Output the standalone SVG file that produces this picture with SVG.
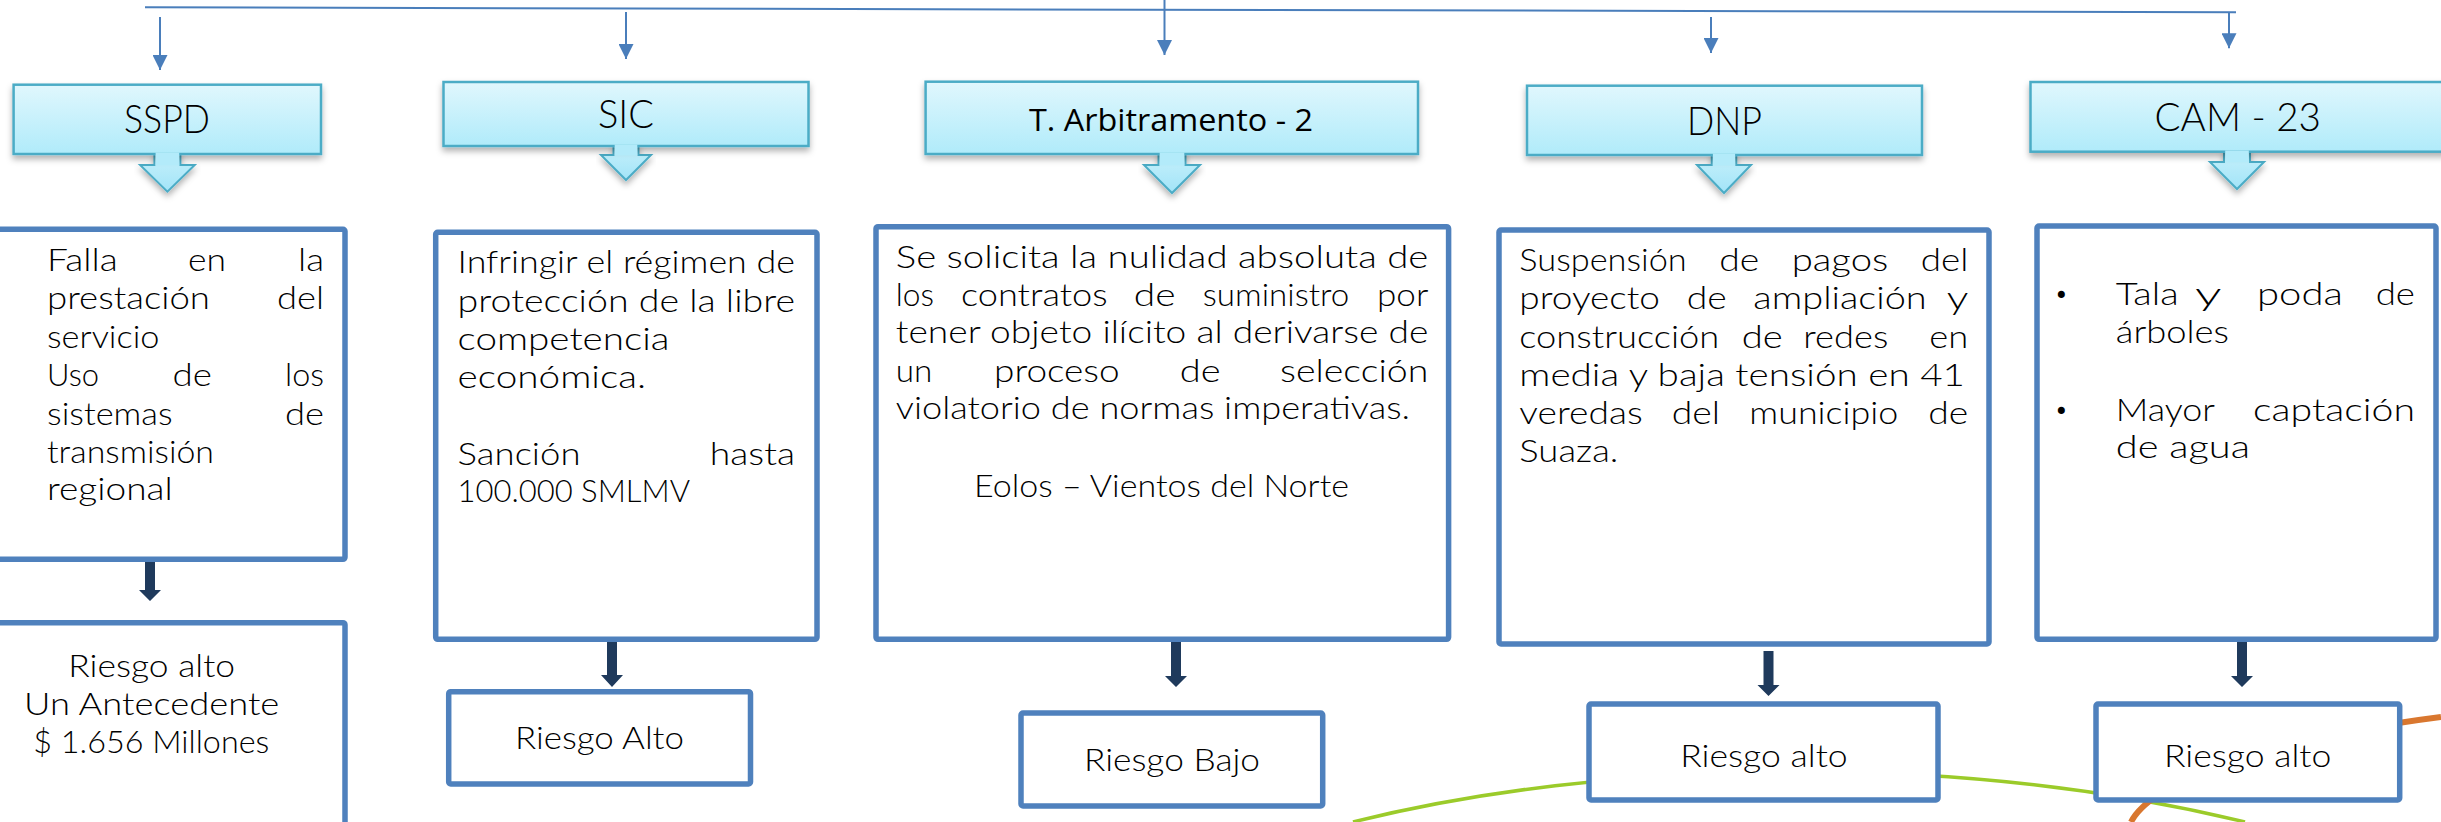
<svg xmlns="http://www.w3.org/2000/svg" width="2441" height="822" viewBox="0 0 2441 822">
<defs>
<style>
.t{font-family:"Lato","DejaVu Sans",sans-serif;font-size:31px;font-weight:300;fill:#000}
.h{font-family:"Lato","DejaVu Sans",sans-serif;font-size:40px;font-weight:300;fill:#000}
.hc{font-family:"Open Sans","Liberation Sans",sans-serif;font-size:31px;font-weight:400;fill:#000}
.hdr{fill:url(#gHdr);stroke:#4BACC6;stroke-width:2.5;filter:url(#sh)}
.harr{fill:url(#gArr);stroke:#4BACC6;stroke-width:2;filter:url(#sh)}
.box{fill:#fff;stroke:#4F81BD;stroke-width:5.5}
.blue{fill:none;stroke:#4A7EBB;stroke-width:2}
.dark{fill:#1F3A5C}
.bul{font-family:"DejaVu Sans",sans-serif;font-size:24px;fill:#000}
</style>
<linearGradient id="gHdr" x1="0" y1="0" x2="0" y2="1">
<stop offset="0" stop-color="#E0F7FD"/>
<stop offset="1" stop-color="#B0EBFA"/>
</linearGradient>
<linearGradient id="gArr" x1="0" y1="0" x2="0" y2="1">
<stop offset="0" stop-color="#C8F1FB"/>
<stop offset="1" stop-color="#A2E4F8"/>
</linearGradient>
<filter id="sh" x="-10%" y="-20%" width="120%" height="150%">
<feDropShadow dx="0" dy="4" stdDeviation="3" flood-color="#000" flood-opacity="0.3"/>
</filter>
<marker id="ah" viewBox="0 0 10 10" refX="10" refY="5" markerWidth="15" markerHeight="15" markerUnits="userSpaceOnUse" orient="auto">
<path d="M0,0 L10,5 L0,10 z" fill="#4A7EBB"/>
</marker>
</defs>

<g id="curves">
<path d="M1353,822 C1600,760 1950,750 2245,822" fill="none" stroke="#9BCB2A" stroke-width="3.5"/>
<path d="M2131,822 C2155,775 2300,735 2441,717" fill="none" stroke="#D9772F" stroke-width="6"/>
</g>

<g id="connectors">
<path class="blue" d="M145,7.3 L2236,12.3"/>
<path class="blue" d="M1164.5,0 L1164.5,9.5"/>
<path class="blue" d="M160,17 L160,70" marker-end="url(#ah)"/>
<path class="blue" d="M626,12 L626,59" marker-end="url(#ah)"/>
<path class="blue" d="M1164.5,9.5 L1164.5,55" marker-end="url(#ah)"/>
<path class="blue" d="M1711,17 L1711,53" marker-end="url(#ah)"/>
<path class="blue" d="M2229,12.3 L2229,48.3" marker-end="url(#ah)"/>
<path class="dark" d="M145,557 L155,557 L155,590 L161,590 L150,601 L139,590 L145,590 Z"/>
<path class="dark" d="M607,642 L617,642 L617,675 L623,675 L612,687 L601,675 L607,675 Z"/>
<path class="dark" d="M1171,642 L1181,642 L1181,676 L1187,676 L1176,687 L1165,676 L1171,676 Z"/>
<path class="dark" d="M1763.5,651 L1773.5,651 L1773.5,685 L1779.5,685 L1768.5,696 L1757.5,685 L1763.5,685 Z"/>
<path class="dark" d="M2237,642 L2247,642 L2247,676 L2253,676 L2242,687 L2231,676 L2237,676 Z"/>
</g>

<g id="hdr-sspd">
<path class="harr" d="M154.4,152 L180.4,152 L180.4,165 L194.7,165 L167.4,191.7 L140.1,165 L154.4,165 Z"/>
<rect class="hdr" x="13.6" y="84.7" width="307.4" height="69.3"/>
<rect x="155.6" y="152.5" width="23.6" height="13" fill="#B3EBFA"/>
<text class="h" x="124" y="133.3" textLength="86" lengthAdjust="spacingAndGlyphs">SSPD</text>
</g>

<g id="hdr-sic">
<path class="harr" d="M613.5,144 L638.5,144 L638.5,155 L651,155 L626,180 L601,155 L613.5,155 Z"/>
<rect class="hdr" x="443.5" y="82" width="365" height="64"/>
<rect x="614.7" y="144.5" width="22.6" height="11" fill="#B3EBFA"/>
<text class="h" x="598" y="128.3" textLength="56" lengthAdjust="spacingAndGlyphs">SIC</text>
</g>

<g id="hdr-tarb">
<path class="harr" d="M1158.5,152 L1185.5,152 L1185.5,165 L1200,165 L1172,193 L1144,165 L1158.5,165 Z"/>
<rect class="hdr" x="925.6" y="81.7" width="492.4" height="72.3"/>
<rect x="1159.7" y="152.5" width="24.6" height="13" fill="#B3EBFA"/>
<text class="hc" x="1029" y="131" textLength="284" lengthAdjust="spacingAndGlyphs">T. Arbitramento - 2</text>
</g>

<g id="hdr-dnp">
<path class="harr" d="M1711.7,153 L1736.3,153 L1736.3,165 L1751,165 L1724,193 L1697,165 L1711.7,165 Z"/>
<rect class="hdr" x="1527" y="85.7" width="395" height="69.3"/>
<rect x="1712.9" y="153.5" width="22.2" height="12" fill="#B3EBFA"/>
<text class="h" x="1687" y="135" textLength="75" lengthAdjust="spacingAndGlyphs">DNP</text>
</g>

<g id="hdr-cam">
<path class="harr" d="M2224,150 L2250,150 L2250,162 L2264,162 L2237,189 L2210,162 L2224,162 Z"/>
<rect class="hdr" x="2030.5" y="82" width="420" height="69.7"/>
<rect x="2225.2" y="150.5" width="23.6" height="12" fill="#B3EBFA"/>
<text class="h" x="2154.5" y="130.7" textLength="166.5" lengthAdjust="spacingAndGlyphs">CAM - 23</text>
</g>

<g id="box-sspd">
<rect class="box" x="-50" y="229.3" width="395" height="330" rx="2"/>
<text class="t" x="47" y="270.7" textLength="70.7" lengthAdjust="spacingAndGlyphs">Falla</text>
<text class="t" x="188" y="270.7" textLength="38" lengthAdjust="spacingAndGlyphs">en</text>
<text class="t" x="298" y="270.7" textLength="26" lengthAdjust="spacingAndGlyphs">la</text>
<text class="t" x="47" y="309.3" textLength="163" lengthAdjust="spacingAndGlyphs">prestación</text>
<text class="t" x="277" y="309.3" textLength="47" lengthAdjust="spacingAndGlyphs">del</text>
<text class="t" x="47" y="347.7" textLength="112.5" lengthAdjust="spacingAndGlyphs">servicio</text>
<text class="t" x="47" y="386" textLength="52" lengthAdjust="spacingAndGlyphs">Uso</text>
<text class="t" x="172.6" y="386" textLength="39.4" lengthAdjust="spacingAndGlyphs">de</text>
<text class="t" x="285" y="386" textLength="39" lengthAdjust="spacingAndGlyphs">los</text>
<text class="t" x="47" y="425" textLength="125.6" lengthAdjust="spacingAndGlyphs">sistemas</text>
<text class="t" x="285" y="425" textLength="39" lengthAdjust="spacingAndGlyphs">de</text>
<text class="t" x="47" y="462.7" textLength="167" lengthAdjust="spacingAndGlyphs">transmisión</text>
<text class="t" x="47" y="500" textLength="125.6" lengthAdjust="spacingAndGlyphs">regional</text>
</g>

<g id="box-sic">
<rect class="box" x="435.7" y="232.3" width="381.3" height="407" rx="2"/>
<text class="t" x="457.6" y="273.3" textLength="337.4" lengthAdjust="spacingAndGlyphs">Infringir el régimen de</text>
<text class="t" x="457.6" y="311.7" textLength="337.4" lengthAdjust="spacingAndGlyphs">protección de la libre</text>
<text class="t" x="457.6" y="350" textLength="211.9" lengthAdjust="spacingAndGlyphs">competencia</text>
<text class="t" x="457.6" y="388" textLength="188.4" lengthAdjust="spacingAndGlyphs">económica.</text>
<text class="t" x="457.6" y="465" textLength="122.9" lengthAdjust="spacingAndGlyphs">Sanción</text>
<text class="t" x="709.7" y="465" textLength="85.3" lengthAdjust="spacingAndGlyphs">hasta</text>
<text class="t" x="457.6" y="502.3" textLength="232.4" lengthAdjust="spacingAndGlyphs">100.000 SMLMV</text>
</g>

<g id="box-tarb">
<rect class="box" x="876" y="226.7" width="572.6" height="412.6" rx="2"/>
<text class="t" x="895.8" y="268.3" textLength="532.5" lengthAdjust="spacingAndGlyphs">Se solicita la nulidad absoluta de</text>
<text class="t" x="895.8" y="306" textLength="38.2" lengthAdjust="spacingAndGlyphs">los</text>
<text class="t" x="961" y="306" textLength="146.7" lengthAdjust="spacingAndGlyphs">contratos</text>
<text class="t" x="1133.8" y="306" textLength="41.8" lengthAdjust="spacingAndGlyphs">de</text>
<text class="t" x="1202.8" y="306" textLength="146.5" lengthAdjust="spacingAndGlyphs">suministro</text>
<text class="t" x="1377" y="306" textLength="51.3" lengthAdjust="spacingAndGlyphs">por</text>
<text class="t" x="895.8" y="343.3" textLength="532.5" lengthAdjust="spacingAndGlyphs">tener objeto ilícito al derivarse de</text>
<text class="t" x="895.8" y="381.7" textLength="36.6" lengthAdjust="spacingAndGlyphs">un</text>
<text class="t" x="994" y="381.7" textLength="125.7" lengthAdjust="spacingAndGlyphs">proceso</text>
<text class="t" x="1179.8" y="381.7" textLength="40.8" lengthAdjust="spacingAndGlyphs">de</text>
<text class="t" x="1280" y="381.7" textLength="148.3" lengthAdjust="spacingAndGlyphs">selección</text>
<text class="t" x="895.8" y="419.3" textLength="514.2" lengthAdjust="spacingAndGlyphs">violatorio de normas imperativas.</text>
<text class="t" x="974" y="496.7" textLength="375" lengthAdjust="spacingAndGlyphs">Eolos – Vientos del Norte</text>
</g>

<g id="box-dnp">
<rect class="box" x="1499" y="230" width="490" height="414" rx="2"/>
<text class="t" x="1519.3" y="270.7" textLength="167.4" lengthAdjust="spacingAndGlyphs">Suspensión</text>
<text class="t" x="1719.3" y="270.7" textLength="40" lengthAdjust="spacingAndGlyphs">de</text>
<text class="t" x="1791.7" y="270.7" textLength="96.6" lengthAdjust="spacingAndGlyphs">pagos</text>
<text class="t" x="1920.7" y="270.7" textLength="47.6" lengthAdjust="spacingAndGlyphs">del</text>
<text class="t" x="1519.3" y="309.3" textLength="140.7" lengthAdjust="spacingAndGlyphs">proyecto</text>
<text class="t" x="1686.7" y="309.3" textLength="40" lengthAdjust="spacingAndGlyphs">de</text>
<text class="t" x="1753.3" y="309.3" textLength="173.4" lengthAdjust="spacingAndGlyphs">ampliación</text>
<text class="t" x="1946.7" y="309.3" textLength="21.6" lengthAdjust="spacingAndGlyphs">y</text>
<text class="t" x="1519.3" y="347.7" textLength="200" lengthAdjust="spacingAndGlyphs">construcción</text>
<text class="t" x="1741.7" y="347.7" textLength="41" lengthAdjust="spacingAndGlyphs">de</text>
<text class="t" x="1803.3" y="347.7" textLength="85" lengthAdjust="spacingAndGlyphs">redes</text>
<text class="t" x="1929.3" y="347.7" textLength="39" lengthAdjust="spacingAndGlyphs">en</text>
<text class="t" x="1519.3" y="385.7" textLength="445.7" lengthAdjust="spacingAndGlyphs">media y baja tensión en 41</text>
<text class="t" x="1519.3" y="424" textLength="123.4" lengthAdjust="spacingAndGlyphs">veredas</text>
<text class="t" x="1671.7" y="424" textLength="48.3" lengthAdjust="spacingAndGlyphs">del</text>
<text class="t" x="1749.3" y="424" textLength="149" lengthAdjust="spacingAndGlyphs">municipio</text>
<text class="t" x="1928.3" y="424" textLength="40" lengthAdjust="spacingAndGlyphs">de</text>
<text class="t" x="1519.3" y="462.3" textLength="99" lengthAdjust="spacingAndGlyphs">Suaza.</text>
</g>

<g id="box-cam">
<rect class="box" x="2037" y="226" width="399" height="413.3" rx="2"/>
<text class="bul" x="2061.4" y="304" text-anchor="middle">•</text>
<text class="t" x="2115.8" y="305" textLength="62.8" lengthAdjust="spacingAndGlyphs">Tala</text>
<text class="t" x="2195" y="305" textLength="26.5" lengthAdjust="spacingAndGlyphs">y</text>
<text class="t" x="2257" y="305" textLength="85.8" lengthAdjust="spacingAndGlyphs">poda</text>
<text class="t" x="2375.7" y="305" textLength="39.3" lengthAdjust="spacingAndGlyphs">de</text>
<text class="t" x="2115.8" y="342.7" textLength="113.2" lengthAdjust="spacingAndGlyphs">árboles</text>
<text class="bul" x="2061.4" y="419.7" text-anchor="middle">•</text>
<text class="t" x="2115.8" y="420.7" textLength="99.2" lengthAdjust="spacingAndGlyphs">Mayor</text>
<text class="t" x="2253" y="420.7" textLength="162" lengthAdjust="spacingAndGlyphs">captación</text>
<text class="t" x="2115.8" y="458.3" textLength="134.2" lengthAdjust="spacingAndGlyphs">de agua</text>
</g>

<g id="res-sspd">
<rect class="box" x="-50" y="622.7" width="395" height="300" rx="2"/>
<text class="t" x="68.3" y="676.7" textLength="166.7" lengthAdjust="spacingAndGlyphs">Riesgo alto</text>
<text class="t" x="24" y="715" textLength="255.3" lengthAdjust="spacingAndGlyphs">Un Antecedente</text>
<text class="t" x="33.3" y="752.7" textLength="236" lengthAdjust="spacingAndGlyphs">$ 1.656 Millones</text>
</g>

<g id="res-sic">
<rect class="box" x="448.7" y="691.7" width="301.8" height="92.3" rx="2"/>
<text class="t" x="515" y="749.3" textLength="169" lengthAdjust="spacingAndGlyphs">Riesgo Alto</text>
</g>

<g id="res-tarb">
<rect class="box" x="1021" y="713" width="301.7" height="93" rx="2"/>
<text class="t" x="1084" y="770.7" textLength="176" lengthAdjust="spacingAndGlyphs">Riesgo Bajo</text>
</g>

<g id="res-dnp">
<rect class="box" x="1589" y="704" width="349" height="96" rx="2"/>
<text class="t" x="1680.2" y="766.7" textLength="167.5" lengthAdjust="spacingAndGlyphs">Riesgo alto</text>
</g>

<g id="res-cam">
<rect class="box" x="2096" y="704" width="303.7" height="96" rx="2"/>
<text class="t" x="2164" y="766.7" textLength="167.3" lengthAdjust="spacingAndGlyphs">Riesgo alto</text>
</g>
</svg>
